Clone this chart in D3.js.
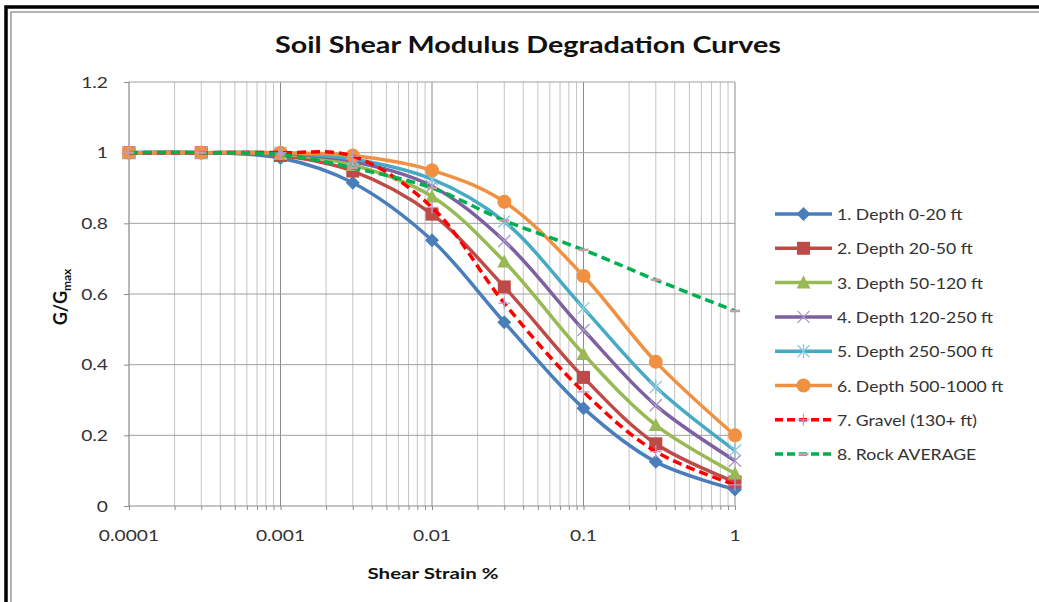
<!DOCTYPE html>
<html>
<head>
<meta charset="utf-8">
<script src="https://cdn.jsdelivr.net/npm/d3@7"></script>
<style>
  body { margin: 0; background: #fff; }
  svg text { font-family: Lato, "Open Sans", sans-serif; }
</style>
</head>
<body>
<svg id="chart" width="1039" height="602"></svg>
<script>
// strain values (%)
var strain = [0.0001, 0.0003, 0.001, 0.003, 0.01, 0.03, 0.1, 0.3, 1];

var depth0_20    = [1, 1, 0.985, 0.915, 0.752, 0.52, 0.277, 0.125, 0.047];
var depth20_50   = [1, 1, 0.992, 0.948, 0.826, 0.62, 0.364, 0.176, 0.068];
var depth50_120  = [1, 1, 0.996, 0.965, 0.876, 0.692, 0.43, 0.229, 0.092];
var depth120_250 = [1, 1, 0.998, 0.975, 0.905, 0.75, 0.498, 0.285, 0.128];
var depth250_500 = [1, 1, 0.999, 0.982, 0.925, 0.805, 0.56, 0.337, 0.157];
var depth500_1000= [1, 1, 1.0, 0.992, 0.95, 0.861, 0.651, 0.408, 0.2];
var gravel       = [1, 1, 1.0, 0.99, 0.845, 0.574, 0.323, 0.154, 0.06];
var rockAverage  = [1, 1, 0.995, 0.957, 0.9, 0.808, 0.725, 0.64, 0.552];

var xTicks = [0.0001, 0.001, 0.01, 0.1, 1];
var xTickLabels = ["0.0001", "0.001", "0.01", "0.1", "1"];
var yTicks = [0, 0.2, 0.4, 0.6, 0.8, 1, 1.2];
var yTickLabels = ["0", "0.2", "0.4", "0.6", "0.8", "1", "1.2"];

var series = [
  {name: "1. Depth 0-20 ft", values: depth0_20, color: "#4a7ebb", marker: "diamond"},
  {name: "2. Depth 20-50 ft", values: depth20_50, color: "#be4b48", marker: "square"},
  {name: "3. Depth 50-120 ft", values: depth50_120, color: "#98b954", marker: "triangle"},
  {name: "4. Depth 120-250 ft", values: depth120_250, color: "#7d60a0", marker: "x"},
  {name: "5. Depth 250-500 ft", values: depth250_500, color: "#46aac5", marker: "star"},
  {name: "6. Depth 500-1000 ft", values: depth500_1000, color: "#f09040", marker: "circle"},
  {name: "7. Gravel (130+ ft)", values: gravel, color: "#ff0000", marker: "plus", dash: "9,5"},
  {name: "8. Rock AVERAGE", values: rockAverage, color: "#00b050", marker: "dash", dash: "9,5"}
];

var svg = d3.select('#chart');

// the original picture is a bit wider than tall, so text is stretched
function stretch(sel, factor) {
  sel.each(function() {
    var w = this.getComputedTextLength();
    d3.select(this).attr('textLength', w * factor).attr('lengthAdjust', 'spacingAndGlyphs');
  });
}

// frame
svg.append('rect').attr('x', 6).attr('y', 7).attr('width', 1040).attr('height', 610)
  .attr('fill', 'none').attr('stroke', '#000').attr('stroke-width', 3.5);
svg.append('rect').attr('x', 11).attr('y', 12).attr('width', 1040).attr('height', 610)
  .attr('fill', 'none').attr('stroke', '#9a9a9a').attr('stroke-width', 1.5);

var x = d3.scaleLog().domain([0.0001, 1]).range([129, 735]);
var y = d3.scaleLinear().domain([0, 1.2]).range([506, 82]);

// vertical grid at every log step
var minor = [];
for (var e = -4; e < 0; e++) {
  for (var m = 1; m < 10; m++) minor.push(m * Math.pow(10, e));
}
minor.push(1);

svg.append('g').selectAll('line').data(minor).enter().append('line')
  .attr('x1', function(d) { return x(d); }).attr('x2', function(d) { return x(d); })
  .attr('y1', y(1.2)).attr('y2', y(0))
  .attr('stroke', function(d) { return xTicks.indexOf(d) >= 0 && d !== 0.0001 ? '#8c8c8c' : '#c4c4c4'; })
  .attr('stroke-width', 1);

svg.append('g').selectAll('line').data(yTicks.slice(1)).enter().append('line')
  .attr('x1', x(0.0001)).attr('x2', x(1))
  .attr('y1', function(d) { return y(d); }).attr('y2', function(d) { return y(d); })
  .attr('stroke', '#a0a0a0').attr('stroke-width', 1);

// axes
var xAxis = d3.axisBottom(x).tickValues(minor).tickSize(4).tickFormat('');
var gx = svg.append('g').attr('transform', 'translate(0,' + y(0) + ')').call(xAxis);
gx.selectAll('path, line').attr('stroke', '#8c8c8c');
gx.select('.domain').attr('d', 'M' + x(0.0001) + ',0H' + x(1));

var yAxis = d3.axisLeft(y).tickValues(yTicks).tickSize(5).tickFormat('');
var gy = svg.append('g').attr('transform', 'translate(' + x(0.0001) + ',0)').call(yAxis);
gy.selectAll('path, line').attr('stroke', '#8c8c8c');
gy.select('.domain').attr('d', 'M0,' + y(1.2) + 'V' + y(0));

var xl = svg.append('g').selectAll('text').data(xTicks).enter().append('text')
  .attr('x', function(d) { return x(d); }).attr('y', 541)
  .attr('text-anchor', 'middle').attr('font-size', 16).attr('fill', '#333')
  .text(function(d, i) { return xTickLabels[i]; });
stretch(xl, 1.2);

var ylab = svg.append('g').selectAll('text').data(yTicks).enter().append('text')
  .attr('x', 108).attr('y', function(d) { return y(d) + 5.5; })
  .attr('text-anchor', 'end').attr('font-size', 16).attr('fill', '#333')
  .text(function(d, i) { return yTickLabels[i]; });
stretch(ylab, 1.2);

// titles
var title = svg.append('text').attr('x', 528).attr('y', 53).attr('text-anchor', 'middle')
  .attr('font-size', 23).attr('font-weight', 'bold').attr('fill', '#111')
  .text('Soil Shear Modulus Degradation Curves');
stretch(title, 1.25);

var xt = svg.append('text').attr('x', 433).attr('y', 579).attr('text-anchor', 'middle')
  .attr('font-size', 16).attr('font-weight', 'bold').attr('fill', '#111')
  .text('Shear Strain %');
stretch(xt, 1.28);

var yl = svg.append('text').attr('transform', 'translate(67,297) rotate(-90)')
  .attr('text-anchor', 'middle').attr('font-size', 18).attr('font-weight', 'bold').attr('fill', '#111');
yl.append('tspan').text('G/G');
yl.append('tspan').attr('font-size', 12).attr('dy', 4).text('max');

// curves
var line = d3.line()
  .x(function(d) { return x(d[0]); })
  .y(function(d) { return y(d[1]); })
  .curve(d3.curveCatmullRom.alpha(0.5));

function drawMarker(g, type, cx, cy, color) {
  if (type === 'diamond') {
    g.append('path').attr('d', 'M' + cx + ',' + (cy - 7) + 'L' + (cx + 7) + ',' + cy + 'L' + cx + ',' + (cy + 7) + 'L' + (cx - 7) + ',' + cy + 'Z')
      .attr('fill', color);
  } else if (type === 'square') {
    g.append('rect').attr('x', cx - 6.5).attr('y', cy - 6.5).attr('width', 13).attr('height', 13).attr('fill', color);
  } else if (type === 'triangle') {
    g.append('path').attr('d', 'M' + cx + ',' + (cy - 7) + 'L' + (cx + 7) + ',' + (cy + 6) + 'L' + (cx - 7) + ',' + (cy + 6) + 'Z')
      .attr('fill', color);
  } else if (type === 'circle') {
    g.append('circle').attr('cx', cx).attr('cy', cy).attr('r', 7).attr('fill', color);
  } else if (type === 'x') {
    g.append('path').attr('d', 'M' + (cx - 6) + ',' + (cy - 6) + 'L' + (cx + 6) + ',' + (cy + 6) + 'M' + (cx + 6) + ',' + (cy - 6) + 'L' + (cx - 6) + ',' + (cy + 6))
      .attr('stroke', '#a898c8').attr('stroke-width', 1.3).attr('fill', 'none');
  } else if (type === 'star') {
    g.append('path').attr('d', 'M' + (cx - 6) + ',' + (cy - 6) + 'L' + (cx + 6) + ',' + (cy + 6) + 'M' + (cx + 6) + ',' + (cy - 6) + 'L' + (cx - 6) + ',' + (cy + 6) + 'M' + cx + ',' + (cy - 7) + 'L' + cx + ',' + (cy + 7))
      .attr('stroke', '#8cc8dc').attr('stroke-width', 1.3).attr('fill', 'none');
  } else if (type === 'plus') {
    g.append('path').attr('d', 'M' + (cx - 6) + ',' + cy + 'L' + (cx + 6) + ',' + cy + 'M' + cx + ',' + (cy - 6) + 'L' + cx + ',' + (cy + 6))
      .attr('stroke', '#b0a0d0').attr('stroke-width', 1.3).attr('fill', 'none');
  } else if (type === 'dash') {
    g.append('path').attr('d', 'M' + (cx - 5) + ',' + cy + 'L' + (cx + 5) + ',' + cy)
      .attr('stroke', '#c89aaa').attr('stroke-width', 2.5).attr('fill', 'none');
  }
}

series.forEach(function(s) {
  var pts = strain.map(function(v, i) { return [v, s.values[i]]; });
  var g = svg.append('g');
  g.append('path').datum(pts).attr('d', line)
    .attr('fill', 'none').attr('stroke', s.color).attr('stroke-width', 3.5)
    .attr('stroke-dasharray', s.dash || null);
  pts.forEach(function(p) { drawMarker(g, s.marker, x(p[0]), y(p[1]), s.color); });
});

// legend
var legend = svg.append('g');
series.forEach(function(s, i) {
  var ly = 214 + i * 34.3;
  var lg = legend.append('g');
  lg.append('line').attr('x1', 775).attr('x2', 832).attr('y1', ly).attr('y2', ly)
    .attr('stroke', s.color).attr('stroke-width', 3.5).attr('stroke-dasharray', s.dash ? '8,4' : null);
  drawMarker(lg, s.marker, 803.5, ly, s.color);
  var t = lg.append('text').attr('x', 837).attr('y', ly + 6).attr('font-size', 16).attr('fill', '#333')
    .text(s.name);
  stretch(t, 1.1);
});
</script>
</body>
</html>
